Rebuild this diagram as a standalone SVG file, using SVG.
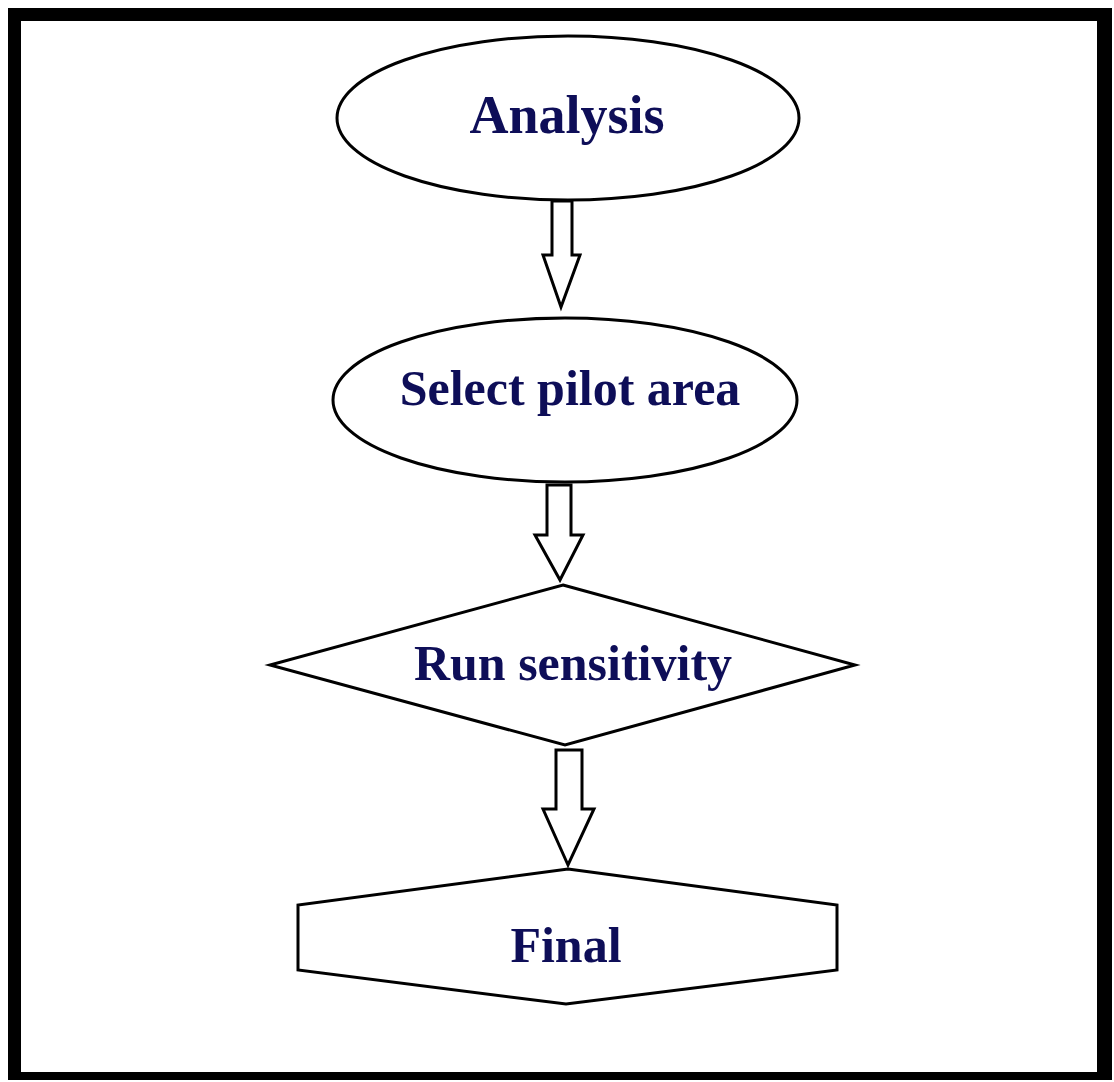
<svg xmlns="http://www.w3.org/2000/svg" width="1114" height="1082" viewBox="0 0 1114 1082">
  <style>
    .shape { fill: #ffffff; stroke: #000000; stroke-width: 3; stroke-linejoin: miter; }
    .arrow { fill: #ffffff; stroke: #000000; stroke-width: 3; stroke-linejoin: miter; }
    .label { font-family: "Liberation Serif", "Times New Roman", serif; font-weight: bold; font-size: 50px; fill: #0e0e58; text-anchor: middle; }
  </style>
  <rect x="0" y="0" width="1114" height="1082" fill="#ffffff"/>
  <rect x="8" y="8" width="1104" height="1072" fill="#000000"/>
  <rect x="21" y="21" width="1076" height="1051" fill="#ffffff"/>

  <g id="node-analysis">
    <ellipse class="shape" cx="568" cy="118" rx="231" ry="82"/>
    <text class="label" x="567" y="133" style="font-size:54px">Analysis</text>
  </g>
  <g id="node-select">
    <ellipse class="shape" cx="565" cy="400" rx="232" ry="82"/>
    <text class="label" x="570" y="405">Select pilot area</text>
  </g>
  <g id="node-run">
    <polygon class="shape" points="563,585 855,665 565,745 270,665"/>
    <text class="label" x="573" y="680">Run sensitivity</text>
  </g>
  <g id="node-final">
    <polygon class="shape" points="568,869 837,905 837,970 566,1004 298,970 298,905"/>
    <text class="label" x="566" y="962">Final</text>
  </g>

  <g id="connectors">
    <polygon class="arrow" points="552,201 572,201 572,255 580,255 561,307 543,255 552,255"/>
    <polygon class="arrow" points="547,485 571,485 571,535 583,535 560,580 535,535 547,535"/>
    <polygon class="arrow" points="556,750 582,750 582,809 594,809 568,865 543,809 556,809"/>
  </g>
</svg>
